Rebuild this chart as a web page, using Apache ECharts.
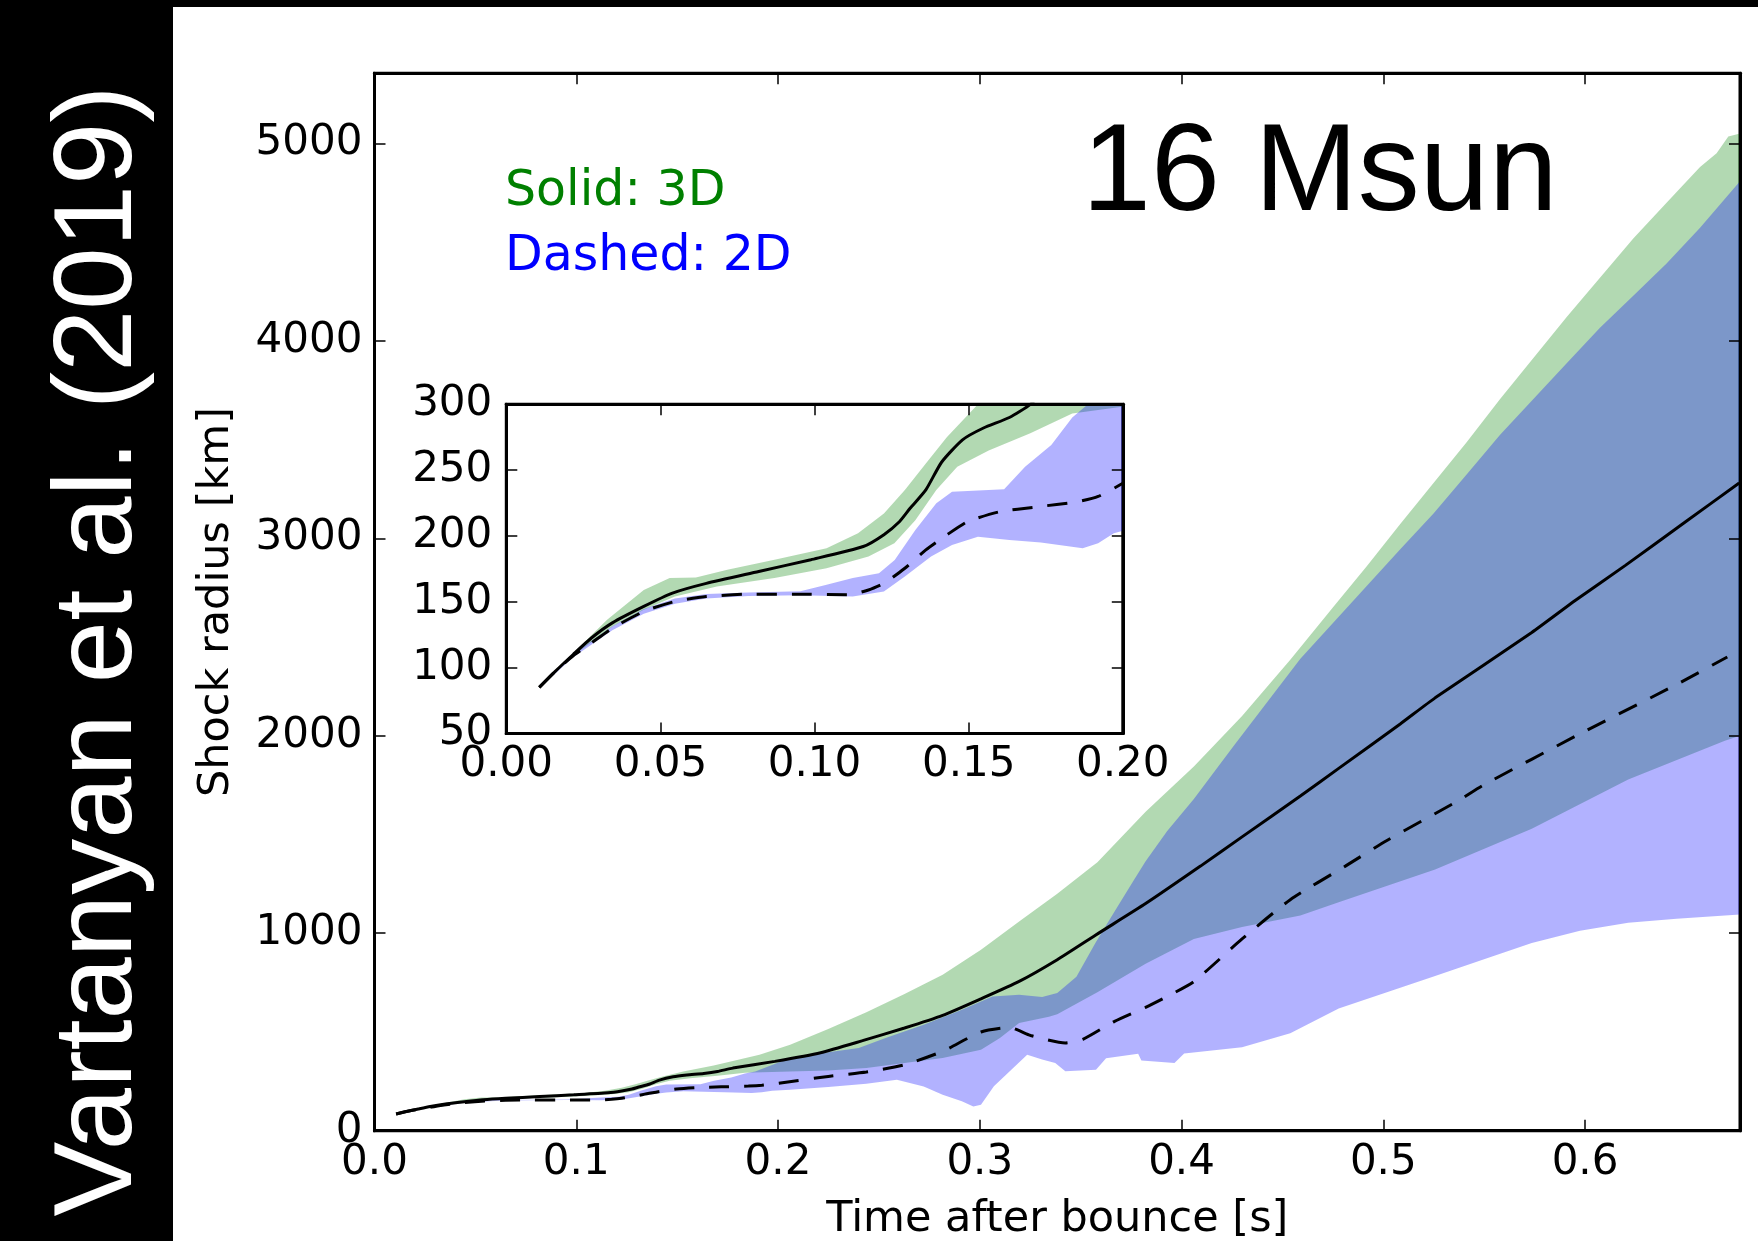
<!DOCTYPE html>
<html>
<head>
<meta charset="utf-8">
<title>16 Msun shock radius</title>
<script src="https://cdn.jsdelivr.net/npm/echarts@6/dist/echarts.min.js"></script>
<style>
  html, body { margin: 0; padding: 0; background: #fff; }
  #chart { width: 1758px; height: 1241px; }
</style>
</head>
<body>
<div id="chart"></div>
<script>
// Shock radius [km] against time after bounce [s]; every entry is [t, r].
const mean3D = [
  [0.0107, 85], [0.0158, 97], [0.0217, 110], [0.0276, 122.5], [0.0344, 134], [0.0446, 146.5],
  [0.0539, 156.6], [0.0649, 164], [0.0819, 173], [0.0988, 182], [0.1158, 192], [0.1225, 201],
  [0.1276, 211], [0.131, 221], [0.1361, 235], [0.1412, 256], [0.148, 273], [0.1548, 282],
  [0.1632, 290], [0.170, 300], [0.1776, 317], [0.1984, 351], [0.2211, 395], [0.2419, 456],
  [0.2627, 520], [0.2816, 584], [0.3006, 668], [0.3195, 756], [0.3384, 866], [0.3573, 990],
  [0.3822, 1150], [0.4094, 1340], [0.43, 1488], [0.4589, 1695], [0.4779, 1835], [0.5084, 2060],
  [0.5257, 2192], [0.5736, 2523], [0.5951, 2685], [0.62, 2863], [0.65, 3085], [0.6764, 3280]
];
const mean2D = [
  [0.0107, 85], [0.0158, 97], [0.0217, 109], [0.0276, 118.7], [0.0344, 130], [0.0446, 142.7],
  [0.0547, 150.3], [0.0649, 154], [0.0785, 155.8], [0.0954, 155.8], [0.1107, 155.3], [0.1175, 159],
  [0.1225, 164], [0.1293, 175.5], [0.1361, 189.4], [0.1429, 200.8], [0.1497, 211], [0.16, 218.4],
  [0.1718, 222], [0.1853, 226], [0.192, 230], [0.2, 240], [0.2249, 275], [0.2438, 297],
  [0.2627, 334], [0.2816, 402], [0.3006, 500], [0.3147, 523], [0.3252, 482], [0.3424, 444],
  [0.3511, 463], [0.3668, 554], [0.3822, 625], [0.3929, 680], [0.4061, 755], [0.43, 971],
  [0.4539, 1170], [0.4812, 1340], [0.5018, 1470], [0.537, 1670], [0.5496, 1750], [0.5975, 2010],
  [0.6454, 2260], [0.6705, 2399]
];
const max3D = [
  [0.0107, 85.5], [0.0217, 111], [0.0327, 136.4], [0.0446, 159], [0.053, 168], [0.0615, 168.5],
  [0.0717, 174.3], [0.087, 182], [0.1039, 190.7], [0.1141, 202], [0.1225, 217], [0.1293, 235],
  [0.1361, 255], [0.1429, 275], [0.153, 300], [0.1681, 330], [0.1908, 385], [0.206, 435],
  [0.2249, 515], [0.2438, 600], [0.2627, 692], [0.2816, 790], [0.3006, 917], [0.3195, 1060],
  [0.3384, 1200], [0.3583, 1360], [0.3822, 1615], [0.4061, 1845], [0.43, 2100], [0.4539, 2385],
  [0.4754, 2655], [0.4919, 2860], [0.5084, 3072], [0.5249, 3280], [0.5414, 3488], [0.5579, 3705],
  [0.5744, 3913], [0.5909, 4121], [0.6074, 4319], [0.6239, 4518], [0.6404, 4699], [0.657, 4880],
  [0.6652, 4950], [0.671, 5035], [0.6768, 5050]
];
const min3D = [
  [0.0107, 84.5], [0.0217, 109], [0.0344, 131.3], [0.0446, 144], [0.0547, 154], [0.0683, 161.6],
  [0.087, 168], [0.1039, 175.5], [0.1175, 184.4], [0.1259, 194.5], [0.1327, 212], [0.1395, 235],
  [0.1463, 252.5], [0.1565, 265], [0.17, 278], [0.1836, 293], [0.206, 300], [0.2249, 305],
  [0.2438, 317], [0.2627, 343], [0.2816, 368], [0.3006, 410], [0.31, 469], [0.3195, 545],
  [0.3343, 577], [0.3384, 590], [0.3583, 701], [0.3822, 846], [0.4061, 971], [0.43, 1032],
  [0.4589, 1090], [0.4779, 1157], [0.5257, 1323], [0.5736, 1529], [0.6214, 1778], [0.6693, 1975],
  [0.6768, 2000]
];
const max2D = [
  [0.0107, 85.5], [0.0217, 110.5], [0.0344, 131.5], [0.0446, 144.5], [0.0547, 152.5], [0.0649, 156],
  [0.0785, 157], [0.0954, 158], [0.1039, 163], [0.1124, 168], [0.1209, 171.7], [0.126, 181.8],
  [0.1327, 204.6], [0.1395, 224.8], [0.1446, 233.6], [0.1615, 235.4], [0.1683, 252.5], [0.1768, 269],
  [0.1836, 290], [0.1887, 300], [0.206, 368], [0.2249, 397], [0.24, 419], [0.2533, 469],
  [0.2722, 537], [0.2911, 613], [0.3063, 680], [0.3195, 689], [0.3309, 677], [0.3384, 697],
  [0.3479, 780], [0.3573, 950], [0.3668, 1110], [0.3764, 1270], [0.3822, 1364], [0.3929, 1518],
  [0.4061, 1680], [0.4259, 1950], [0.4424, 2170], [0.4589, 2390], [0.4754, 2575], [0.4919, 2760],
  [0.5084, 2945], [0.5249, 3126], [0.5414, 3325], [0.5579, 3524], [0.5744, 3705], [0.5909, 3886],
  [0.6074, 4066], [0.6239, 4229], [0.6404, 4392], [0.657, 4573], [0.6768, 4808]
];
const min2D = [
  [0.0107, 84.5], [0.0217, 108], [0.0344, 128.5], [0.0446, 141], [0.0547, 148.5], [0.0649, 152.5],
  [0.0785, 154.5], [0.0954, 155], [0.1124, 154], [0.1225, 157.8], [0.1293, 169.2], [0.1378, 184.4],
  [0.1446, 193.2], [0.153, 199.5], [0.1632, 197], [0.1734, 195], [0.187, 190.7], [0.192, 194.5],
  [0.1971, 202], [0.206, 208], [0.2249, 221], [0.2438, 238], [0.2589, 258], [0.2722, 224],
  [0.2816, 182], [0.2911, 149], [0.2968, 123], [0.3006, 132], [0.307, 225], [0.3235, 385],
  [0.3309, 360], [0.3374, 343], [0.3424, 301], [0.3576, 309], [0.3626, 367], [0.3785, 390],
  [0.3801, 356], [0.3965, 343], [0.4013, 391], [0.43, 422], [0.4539, 494], [0.4779, 619],
  [0.5018, 701], [0.5257, 784], [0.5496, 867], [0.5736, 950], [0.5975, 1012], [0.6214, 1053],
  [0.6454, 1074], [0.6768, 1095]
];

// Axis ranges and tick labels
const mainXRange = [0, 0.6768];
const mainYRange = [0, 5355];
const insetXRange = [0, 0.2];
const insetYRange = [50, 300];
const mainXLabels = ['0.0', '0.1', '0.2', '0.3', '0.4', '0.5', '0.6'];
const mainYLabels = ['0', '1000', '2000', '3000', '4000', '5000'];
const insetXLabels = ['0.00', '0.05', '0.10', '0.15', '0.20'];
const insetYLabels = ['50', '100', '150', '200', '250', '300'];

const FONT = '"DejaVu Sans", sans-serif';

function labelFormatter(list, digits) {
  return function (v) {
    const s = v.toFixed(digits);
    return list.indexOf(s) >= 0 && Math.abs(v - parseFloat(s)) < 1e-6 ? s : '';
  };
}

function valueAxis(extra) {
  return Object.assign({
    type: 'value',
    splitLine: { show: false },
    minorTick: { show: false },
    axisLine: { show: true, onZero: false, lineStyle: { color: '#000', width: 3 } },
    axisTick: { show: true, inside: true, length: 11, lineStyle: { color: '#000', width: 1.5 } },
    axisLabel: { show: false },
    z: 10
  }, extra);
}

function tickLabels(list, digits, margin) {
  return {
    show: true, margin: margin, fontSize: 42, fontFamily: FONT, color: '#000',
    showMinLabel: true, showMaxLabel: true,
    formatter: labelFormatter(list, digits)
  };
}

function band(name, upper, lower, fill, xi, yi) {
  return {
    type: 'custom', name: name, xAxisIndex: xi, yAxisIndex: yi,
    clip: true, silent: true, z: 1,
    data: [upper[0]],
    encode: { x: 0, y: 1 },
    renderItem: function (params, api) {
      const pts = upper.map(function (p) { return api.coord(p); })
        .concat(lower.slice().reverse().map(function (p) { return api.coord(p); }));
      return { type: 'polygon', shape: { points: pts }, style: { fill: fill } };
    }
  };
}

function curve(name, data, dashed, xi, yi) {
  return {
    type: 'line', name: name, data: data, xAxisIndex: xi, yAxisIndex: yi,
    showSymbol: false, symbol: 'none', clip: true, silent: true, z: 3,
    smooth: 0.2,
    lineStyle: { color: '#000', width: 3, type: dashed ? [20, 15] : 'solid' },
    emphasis: { disabled: true }
  };
}

const GREEN_FILL = 'rgba(0,128,0,0.3)';
const BLUE_FILL = 'rgba(0,0,255,0.3)';
const TITLE_STYLE = { fontSize: 43, fontFamily: FONT, color: '#000' };

const option = {
  backgroundColor: '#fff',
  animation: false,
  grid: [
    { left: 374.5, top: 73.3, width: 1365.5, height: 1057.4, show: true,
      borderColor: '#000', borderWidth: 3, backgroundColor: '#fff', containLabel: false, outerBoundsMode: 'none' },
    { left: 506.3, top: 404.3, width: 616.5, height: 329.2, show: true,
      borderColor: '#000', borderWidth: 3, backgroundColor: '#fff', containLabel: false, outerBoundsMode: 'none' }
  ],
  xAxis: [
    valueAxis({ gridIndex: 0, position: 'bottom', min: mainXRange[0], max: mainXRange[1], interval: 0.1,
      axisLabel: tickLabels(mainXLabels, 1, 11),
      name: 'Time after bounce [s]', nameLocation: 'middle', nameGap: 68, nameTextStyle: TITLE_STYLE }),
    valueAxis({ gridIndex: 0, position: 'top', min: mainXRange[0], max: mainXRange[1], interval: 0.1 }),
    valueAxis({ gridIndex: 1, position: 'bottom', min: insetXRange[0], max: insetXRange[1], interval: 0.05,
      axisLabel: tickLabels(insetXLabels, 2, 11) }),
    valueAxis({ gridIndex: 1, position: 'top', min: insetXRange[0], max: insetXRange[1], interval: 0.05 })
  ],
  yAxis: [
    valueAxis({ gridIndex: 0, position: 'left', min: mainYRange[0], max: mainYRange[1], interval: 1000,
      axisLabel: tickLabels(mainYLabels, 0, 12),
      name: 'Shock radius [km]', nameLocation: 'middle', nameGap: 136, nameTextStyle: TITLE_STYLE }),
    valueAxis({ gridIndex: 0, position: 'right', min: mainYRange[0], max: mainYRange[1], interval: 1000 }),
    valueAxis({ gridIndex: 1, position: 'left', min: insetYRange[0], max: insetYRange[1], interval: 50,
      axisLabel: tickLabels(insetYLabels, 0, 14) }),
    valueAxis({ gridIndex: 1, position: 'right', min: insetYRange[0], max: insetYRange[1], interval: 50 })
  ],
  series: [
    band('3D spread', max3D, min3D, GREEN_FILL, 0, 0),
    band('2D spread', max2D, min2D, BLUE_FILL, 0, 0),
    curve('3D', mean3D, false, 0, 0),
    curve('2D', mean2D, true, 0, 0),
    band('3D spread (inset)', max3D, min3D, GREEN_FILL, 2, 2),
    band('2D spread (inset)', max2D, min2D, BLUE_FILL, 2, 2),
    curve('3D (inset)', mean3D, false, 2, 2),
    curve('2D (inset)', mean2D, true, 2, 2)
  ],
  graphic: [
    { type: 'rect', z: 100, shape: { x: 0, y: 0, width: 173, height: 1241 }, style: { fill: '#000' } },
    { type: 'rect', z: 100, shape: { x: 0, y: 0, width: 1758, height: 7 }, style: { fill: '#000' } },
    { type: 'text', z: 101, x: 100, y: 651, rotation: Math.PI / 2,
      style: { text: 'Vartanyan et al. (2019)', fill: '#fff', font: '112px "Liberation Sans", Arial, sans-serif',
        textAlign: 'center', textVerticalAlign: 'middle', align: 'center', verticalAlign: 'middle' } },
    { type: 'text', z: 101, x: 1082, y: 176,
      style: { text: '16 Msun', fill: '#000', font: '124px "Liberation Sans", Arial, sans-serif',
        textAlign: 'left', textVerticalAlign: 'middle', align: 'left', verticalAlign: 'middle' } },
    { type: 'text', z: 101, x: 505, y: 192,
      style: { text: 'Solid: 3D', fill: '#008000', font: '49px "DejaVu Sans", sans-serif',
        textAlign: 'left', textVerticalAlign: 'middle', align: 'left', verticalAlign: 'middle' } },
    { type: 'text', z: 101, x: 505, y: 257,
      style: { text: 'Dashed: 2D', fill: '#0000ff', font: '49px "DejaVu Sans", sans-serif',
        textAlign: 'left', textVerticalAlign: 'middle', align: 'left', verticalAlign: 'middle' } }
  ]
};

const chart = echarts.init(document.getElementById('chart'), null, { renderer: 'canvas' });
chart.setOption(option);
</script>
</body>
</html>
